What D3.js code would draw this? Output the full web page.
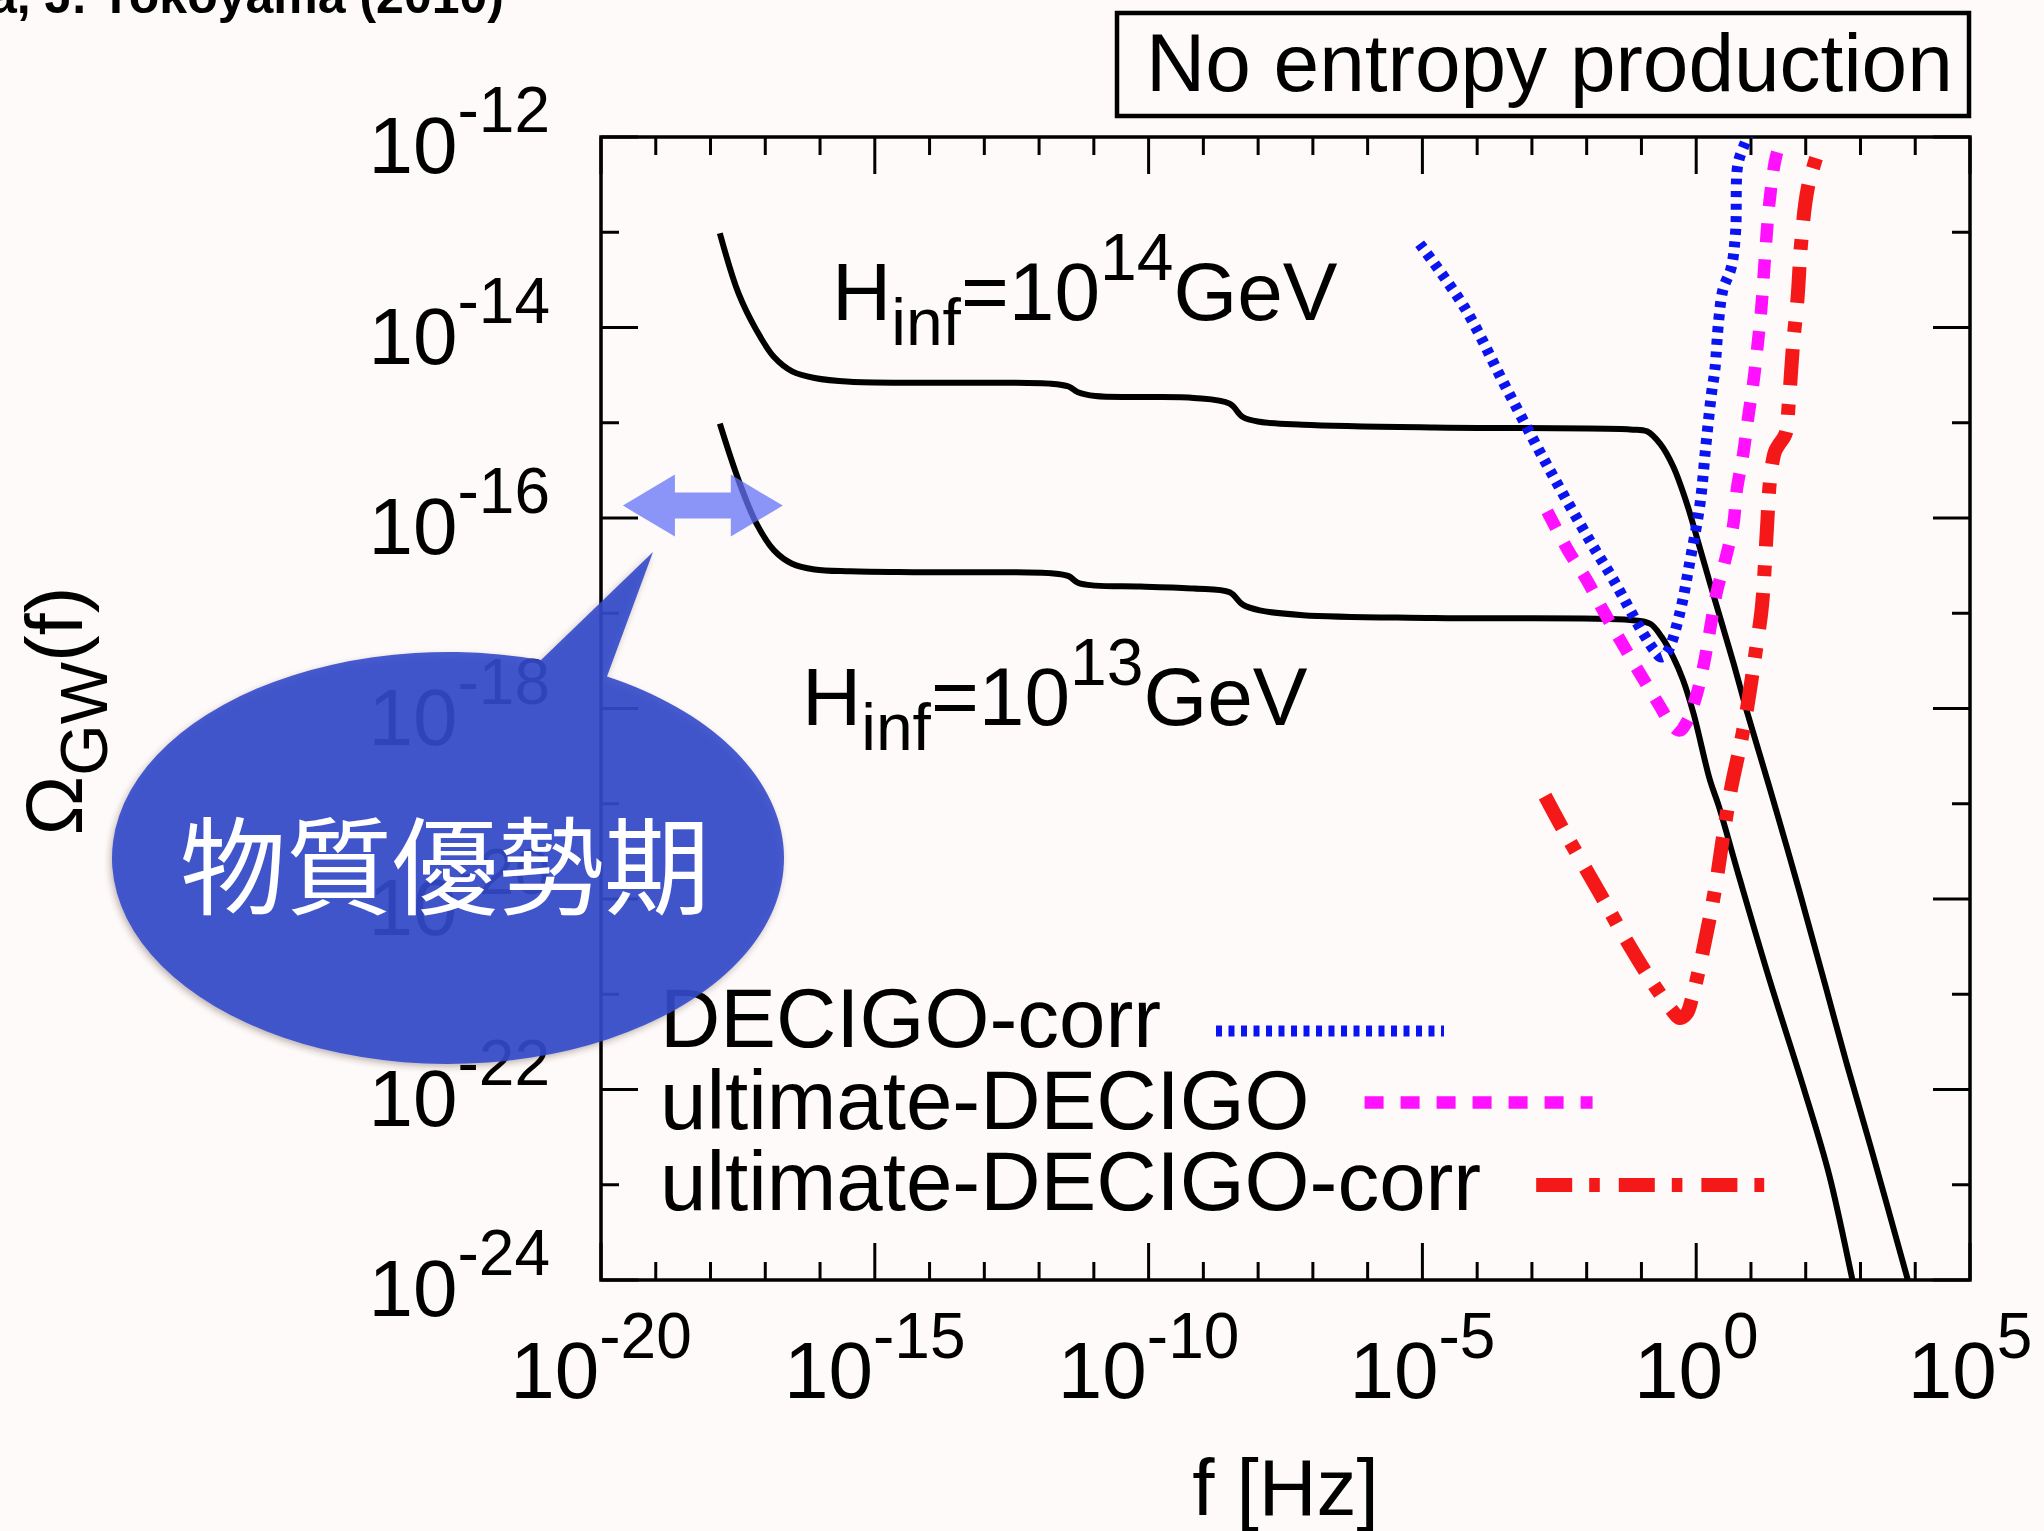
<!DOCTYPE html>
<html>
<head>
<meta charset="utf-8">
<script src="https://cdn.jsdelivr.net/npm/d3@7"></script>
<style>
  html, body { margin: 0; padding: 0; background: #fffafa; }
  svg { display: block; }
  text { font-family: "Liberation Sans", Arial, Helvetica, sans-serif; fill: #000; }
</style>
</head>
<body>
<svg id="chart" width="2044" height="1531"></svg>
<script>
// ---- data (all values are log10 exponents: [log10 f/Hz, log10 Omega_GW]) ----
const xTickExponents = d3.range(-20, 6);
const yTickExponents = d3.range(-24, -11);
const xLabelExponents = [-20, -15, -10, -5, 0, 5];
const yLabelExponents = [-12, -14, -16, -18, -20, -22, -24];

// GW background spectrum, H_inf = 1e14 GeV
const spectrumH14 = [
  [-17.83,-13.01],[-17.49,-13.64],[-17.16,-14.03],[-16.84,-14.31],[-16.51,-14.46],
  [-16.10,-14.53],[-15.45,-14.57],[-14.23,-14.58],[-11.78,-14.59],[-11.46,-14.62],
  [-11.29,-14.68],[-10.97,-14.72],[-10.15,-14.73],[-9.17,-14.74],[-8.52,-14.80],
  [-8.28,-14.94],[-7.97,-14.99],[-7.18,-15.02],[-4.79,-15.05],[-1.21,-15.07],
  [-0.90,-15.09],[-0.66,-15.22],[-0.42,-15.46],[-0.17,-15.85],[0.01,-16.20],
  [0.31,-16.80],[0.68,-17.52],[0.92,-18.02],[1.34,-18.83],[1.88,-19.91],
  [2.35,-20.89],[2.73,-21.69],[3.20,-22.63],[3.86,-23.99],[3.92,-24.12]
];
// GW background spectrum, H_inf = 1e13 GeV
const spectrumH13 = [
  [-17.83,-15.01],[-17.49,-15.60],[-17.16,-16.06],[-16.84,-16.34],[-16.51,-16.48],
  [-16.10,-16.54],[-15.45,-16.56],[-14.23,-16.57],[-11.78,-16.58],[-11.46,-16.61],
  [-11.29,-16.68],[-10.97,-16.71],[-10.15,-16.72],[-9.17,-16.74],[-8.52,-16.78],
  [-8.28,-16.91],[-7.97,-16.97],[-7.18,-17.02],[-4.79,-17.05],[-1.21,-17.07],
  [-0.84,-17.11],[-0.63,-17.25],[-0.42,-17.46],[-0.24,-17.70],[-0.05,-18.05],
  [0.25,-18.75],[0.41,-19.02],[0.80,-19.80],[1.34,-20.85],[1.96,-21.98],
  [2.43,-22.90],[2.85,-23.99],[2.90,-24.12]
];
// detector sensitivity curves
const decigoCorr = [
  [-5.05,-13.12],[-4.23,-13.79],[-3.50,-14.60],[-2.70,-15.47],[-1.91,-16.27],
  [-1.51,-16.65],[-0.97,-17.21],[-0.75,-17.40],[-0.64,-17.46],[-0.52,-17.40],
  [-0.30,-17.00],[-0.11,-16.44],[0.07,-15.85],[0.18,-15.22],[0.28,-14.69],
  [0.34,-14.45],[0.41,-13.93],[0.49,-13.60],[0.64,-13.37],[0.72,-12.99],
  [0.76,-12.29],[0.88,-12.08],[0.95,-11.98]
];
const ultimateDecigo = [
  [-2.72,-15.93],[-2.34,-16.34],[-2.00,-16.65],[-1.70,-16.97],[-1.39,-17.28],
  [-1.03,-17.63],[-0.69,-17.95],[-0.45,-18.17],[-0.30,-18.23],[-0.17,-18.14],
  [-0.02,-17.91],[0.13,-17.56],[0.25,-17.18],[0.37,-16.79],[0.53,-16.44],
  [0.68,-16.06],[0.74,-15.71],[0.86,-15.32],[0.95,-14.94],[1.04,-14.59],
  [1.10,-14.30],[1.19,-13.79],[1.26,-13.23],[1.34,-12.67],[1.46,-12.20],[1.58,-12.00]
];
const ultimateDecigoCorr = [
  [-2.76,-18.92],[-2.45,-19.25],[-1.75,-19.95],[-1.29,-20.42],[-0.83,-20.85],
  [-0.44,-21.17],[-0.30,-21.25],[-0.17,-21.20],[-0.08,-21.05],[0.10,-20.61],
  [0.34,-19.91],[0.49,-19.35],[0.64,-18.83],[0.80,-18.40],[0.92,-18.03],
  [1.10,-17.35],[1.20,-16.93],[1.29,-16.13],[1.35,-15.60],[1.44,-15.30],
  [1.52,-15.22],[1.63,-15.12],[1.69,-14.80],[1.77,-14.17],[1.85,-13.70],
  [1.92,-13.09],[2.04,-12.53],[2.23,-12.15]
];
// matter-dominated era span marked by the double arrow
const matterEraRange = [-19.6, -16.68];
const matterEraLevel = -15.87;

const legendLabels = ["DECIGO-corr", "ultimate-DECIGO", "ultimate-DECIGO-corr"];
const hubbleExponents = [14, 13];

// ---- layout ----
const svg = d3.select("#chart");
const plot = { left: 601, right: 1970, top: 137, bottom: 1280 };
const x = d3.scaleLog().domain([1e-20, 1e5]).range([plot.left, plot.right]);
const y = d3.scaleLog().domain([1e-24, 1e-12]).range([plot.bottom, plot.top]);
const P = e => Math.pow(10, e);

svg.append("rect").attr("width", 2044).attr("height", 1531).attr("fill", "#fffafa");

svg.append("defs").append("clipPath").attr("id", "plotClip")
  .append("rect").attr("x", plot.left).attr("y", plot.top)
  .attr("width", plot.right - plot.left).attr("height", plot.bottom - plot.top);

// citation line at the very top (clipped by the page edge)
svg.append("text").attr("x", 504).attr("y", 13).attr("text-anchor", "end")
  .attr("font-size", 50).attr("font-weight", "bold")
  .text("S. Kuroyanagi, T. Chiba, J. Yokoyama (2010)");

// title box
svg.append("rect").attr("x", 1117).attr("y", 13).attr("width", 852).attr("height", 103)
  .attr("fill", "none").attr("stroke", "#000").attr("stroke-width", 4.5);
svg.append("text").attr("x", 1146).attr("y", 91).attr("font-size", 82)
  .text("No entropy production");

// ---- ticks ----
const tickG = svg.append("g").attr("stroke", "#000").attr("stroke-width", 3);
xTickExponents.forEach(e => {
  const len = e % 5 === 0 ? 37 : 18;
  const px = x(P(e));
  tickG.append("line").attr("x1", px).attr("x2", px).attr("y1", plot.bottom).attr("y2", plot.bottom - len);
  tickG.append("line").attr("x1", px).attr("x2", px).attr("y1", plot.top).attr("y2", plot.top + len);
});
yTickExponents.forEach(e => {
  const len = e % 2 === 0 ? 37 : 18;
  const py = y(P(e));
  tickG.append("line").attr("x1", plot.left).attr("x2", plot.left + len).attr("y1", py).attr("y2", py);
  tickG.append("line").attr("x1", plot.right).attr("x2", plot.right - len).attr("y1", py).attr("y2", py);
});
svg.append("rect").attr("x", plot.left).attr("y", plot.top)
  .attr("width", plot.right - plot.left).attr("height", plot.bottom - plot.top)
  .attr("fill", "none").attr("stroke", "#000").attr("stroke-width", 3.5);

// tick labels: 10^n
function powerLabel(sel, e, supShift) {
  sel.append("tspan").attr("font-size", 80).text("10");
  sel.append("tspan").attr("font-size", 64).attr("dy", supShift).text(String(e));
}
xLabelExponents.forEach(e => {
  const t = svg.append("text").attr("x", x(P(e))).attr("y", 1398).attr("text-anchor", "middle");
  powerLabel(t, e, -40);
});
yLabelExponents.forEach(e => {
  const t = svg.append("text").attr("x", 550).attr("y", y(P(e)) + 36).attr("text-anchor", "end");
  powerLabel(t, e, -41);
});

// axis titles
svg.append("text").attr("x", (plot.left + plot.right) / 2).attr("y", 1515)
  .attr("text-anchor", "middle").attr("font-size", 80).text("f [Hz]");
const yt = svg.append("text").attr("transform", "translate(82,711) rotate(-90)")
  .attr("text-anchor", "middle").attr("font-size", 80);
yt.append("tspan").text("Ω");
yt.append("tspan").attr("font-size", 66).attr("dy", 25).text("GW");
yt.append("tspan").attr("dy", -25).text("(f)");

// ---- curves ----
const line = d3.line()
  .x(d => x(P(d[0])))
  .y(d => y(P(d[1])))
  .curve(d3.curveCatmullRom.alpha(0.5));

const series = [
  { data: spectrumH14, color: "#000", width: 6, dash: null },
  { data: spectrumH13, color: "#000", width: 6, dash: null },
  { data: decigoCorr, color: "#0a14f0", width: 11, dash: "6,6.5" },
  { data: ultimateDecigo, color: "#ff10ff", width: 12.5, dash: "19,17" },
  { data: ultimateDecigoCorr, color: "#f51818", width: 14, dash: "36,17,10.6,19" }
];
const curveG = svg.append("g").attr("clip-path", "url(#plotClip)");
series.forEach(s => {
  curveG.append("path").attr("d", line(s.data)).attr("fill", "none")
    .attr("stroke", s.color).attr("stroke-width", s.width)
    .attr("stroke-dasharray", s.dash).attr("stroke-linejoin", "round");
});

// H_inf labels
[[832, 320], [802, 725]].forEach((pos, i) => {
  const t = svg.append("text").attr("x", pos[0]).attr("y", pos[1]).attr("font-size", 82);
  t.append("tspan").text("H");
  t.append("tspan").attr("font-size", 66).attr("dy", 25).text("inf");
  t.append("tspan").attr("dy", -25).text("=10");
  t.append("tspan").attr("font-size", 66).attr("dy", -40).text(String(hubbleExponents[i]));
  t.append("tspan").attr("dy", 40).text("GeV");
});

// ---- legend ----
const legendRows = [
  { baseline: 1047, lineOffset: -16, s: series[2] },
  { baseline: 1128.5, lineOffset: -26, s: series[3] },
  { baseline: 1210, lineOffset: -25, s: series[4] }
];
legendRows.forEach((r, i) => {
  const t = svg.append("text").attr("x", 660).attr("y", r.baseline).attr("font-size", 83.5)
    .text(legendLabels[i]);
  const x0 = 660 + t.node().getComputedTextLength() + 55;
  svg.append("line").attr("x1", x0).attr("x2", x0 + 228)
    .attr("y1", r.baseline + r.lineOffset).attr("y2", r.baseline + r.lineOffset)
    .attr("stroke", r.s.color).attr("stroke-width", r.s.width).attr("stroke-dasharray", r.s.dash);
});

// ---- matter-era double arrow ----
const ax0 = x(P(matterEraRange[0])), ax1 = x(P(matterEraRange[1])), ay = y(P(matterEraLevel));
const head = 52, hh = 31, sh = 13;
svg.append("path")
  .attr("d", `M${ax0},${ay} L${ax0 + head},${ay - hh} L${ax0 + head},${ay - sh} L${ax1 - head},${ay - sh}
              L${ax1 - head},${ay - hh} L${ax1},${ay} L${ax1 - head},${ay + hh} L${ax1 - head},${ay + sh}
              L${ax0 + head},${ay + sh} L${ax0 + head},${ay + hh} Z`)
  .attr("fill", "rgb(100,115,245)").attr("fill-opacity", 0.75);

// ---- speech balloon ----
const defs = svg.select("defs");
const f = defs.append("filter").attr("id", "balloonShadow")
  .attr("x", "-10%").attr("y", "-10%").attr("width", "120%").attr("height", "120%");
f.append("feDropShadow").attr("dx", -2).attr("dy", 3).attr("stdDeviation", 3)
  .attr("flood-color", "#3a2a20").attr("flood-opacity", 0.35);

const bc = { cx: 448, cy: 858, rx: 336, ry: 206 };
const tipX = 653, tipY = 552;
const baseL = 541, baseR = 607;
const ey = px => bc.cy - bc.ry * Math.sqrt(1 - Math.pow((px - bc.cx) / bc.rx, 2));
svg.append("path")
  .attr("d", `M${baseL},${ey(baseL)} L${tipX},${tipY} L${baseR},${ey(baseR)}
              A${bc.rx},${bc.ry} 0 1 1 ${baseL},${ey(baseL)} Z`)
  .attr("fill", "rgb(52,74,202)").attr("fill-opacity", 0.9)
  .attr("filter", "url(#balloonShadow)");
svg.append("text").attr("x", 445).attr("y", 906).attr("text-anchor", "middle")
  .attr("font-size", 106).style("font-family", '"Noto Sans CJK JP", "Noto Sans CJK SC", sans-serif')
  .style("fill", "#ffffff").text("物質優勢期");
</script>
</body>
</html>
